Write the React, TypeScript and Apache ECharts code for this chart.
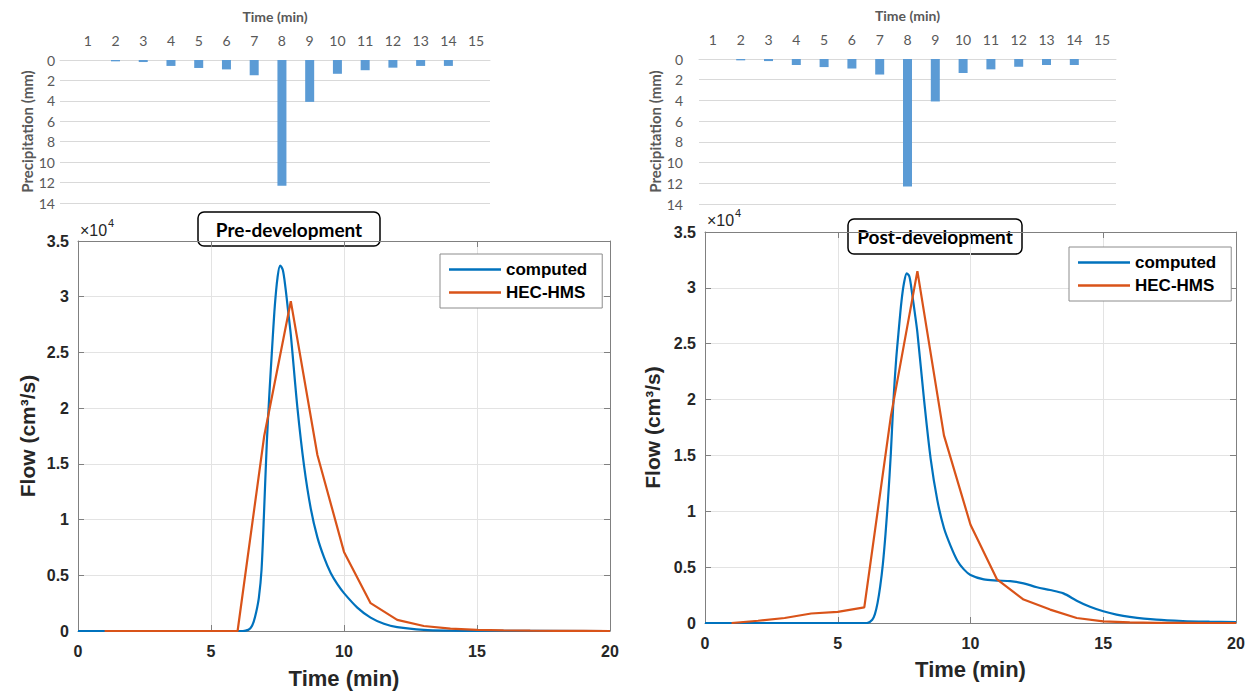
import React, { useEffect, useRef } from "react";
import * as echarts from "echarts";

// ---------- data ----------
const rainMinutes = [1, 2, 3, 4, 5, 6, 7, 8, 9, 10, 11, 12, 13, 14, 15];
const precipitationMm = [0, 0.13, 0.2, 0.58, 0.78, 0.92, 1.5, 12.3, 4.1, 1.35, 1.0, 0.75, 0.58, 0.58, 0];

// flows in units of 10^4 cm^3/s
const preComputedTime = [0, 6.2, 6.4, 6.5, 6.6, 6.7, 6.8, 6.9, 7.0, 7.1, 7.2, 7.3, 7.4, 7.5, 7.6, 7.7, 7.8, 7.9, 8.0, 8.25, 8.5, 8.75, 9.0, 9.25, 9.5, 9.75, 10, 10.5, 11, 11.5, 12, 13, 14, 15, 20];
const preComputedFlow = [0, 0, 0.01, 0.03, 0.08, 0.17, 0.3, 0.55, 1.1, 1.7, 2.15, 2.55, 2.92, 3.17, 3.28, 3.24, 3.08, 2.87, 2.66, 2.0, 1.48, 1.1, 0.84, 0.66, 0.52, 0.42, 0.34, 0.21, 0.12, 0.065, 0.035, 0.01, 0.003, 0.001, 0];
const preHmsTime = [1, 2, 3, 4, 5, 6, 7, 8, 9, 10, 11, 12, 13, 14, 15, 16, 17, 18, 19, 20];
const preHmsFlow = [0, 0, 0, 0, 0, 0, 1.75, 2.96, 1.58, 0.71, 0.25, 0.1, 0.045, 0.022, 0.01, 0.005, 0.003, 0.002, 0.001, 0];

const postComputedTime = [0, 6.1, 6.3, 6.4, 6.5, 6.6, 6.7, 6.8, 6.9, 7.0, 7.1, 7.2, 7.3, 7.4, 7.5, 7.6, 7.7, 7.8, 7.9, 8.0, 8.25, 8.5, 8.75, 9.0, 9.25, 9.5, 9.75, 10, 10.5, 11, 11.5, 12, 12.5, 13, 13.5, 14, 14.5, 15, 15.5, 16, 17, 18, 19, 20];
const postComputedFlow = [0, 0, 0.03, 0.08, 0.18, 0.33, 0.53, 0.8, 1.13, 1.52, 2.0, 2.36, 2.63, 2.88, 3.05, 3.13, 3.1, 2.95, 2.78, 2.6, 2.0, 1.47, 1.1, 0.85, 0.69, 0.56, 0.48, 0.43, 0.39, 0.38, 0.375, 0.355, 0.32, 0.295, 0.265, 0.2, 0.145, 0.105, 0.075, 0.055, 0.03, 0.018, 0.012, 0.008];
const postHmsTime = [1, 2, 3, 4, 5, 6, 7, 8, 9, 10, 11, 12, 13, 14, 15, 16, 17, 18, 19, 20];
const postHmsFlow = [0, 0.02, 0.045, 0.085, 0.1, 0.14, 1.85, 3.15, 1.68, 0.88, 0.39, 0.21, 0.12, 0.045, 0.015, 0.005, 0.002, 0.001, 0, 0];

const seriesNames = ["computed", "HEC-HMS"];

// ---------- styling ----------
const ARIAL = "'Liberation Sans', Arial, Helvetica, sans-serif";
const CAL = "Lato, 'Noto Sans', sans-serif";
const BLUE = "#0072bd";
const ORANGE = "#d95319";
const BAR = "#5b9bd5";
const AXIS = "#808080";

const zip = (t: number[], q: number[]) => t.map((x, i) => [x, q[i]]);

const barNameStyle = { fontFamily: CAL, fontWeight: "bold", fontSize: 14, color: "#595959" };
const barLabelStyle = { fontFamily: CAL, fontSize: 14, color: "#595959" };

// left precipitation panel: numeric axis so the gridlines run past the first bar like the original
const barXValue = (gi: number) => ({
  type: "value",
  gridIndex: gi,
  position: "top",
  min: 0,
  max: 15.5,
  interval: 1,
  name: "Time (min)",
  nameLocation: "middle",
  nameGap: 37,
  nameTextStyle: barNameStyle,
  axisLine: { show: true, onZero: false, lineStyle: { color: "#d9d9d9" } },
  axisTick: { show: false },
  axisLabel: {
    ...barLabelStyle,
    margin: 13,
    showMinLabel: true,
    showMaxLabel: true,
    formatter: (v: number) => (v >= 1 && v <= 15 && Math.abs(v - Math.round(v)) < 1e-6 ? String(Math.round(v)) : ""),
  },
  splitLine: { show: false },
});

const barXCat = (gi: number) => ({
  type: "category",
  gridIndex: gi,
  position: "top",
  data: rainMinutes.map(String),
  name: "Time (min)",
  nameLocation: "middle",
  nameGap: 37,
  nameTextStyle: barNameStyle,
  axisLine: { show: true, lineStyle: { color: "#d9d9d9" } },
  axisTick: { show: false },
  axisLabel: { ...barLabelStyle, margin: 13, interval: 0 },
  splitLine: { show: false },
});

const barY = (gi: number, margin: number, gap: number) => ({
  type: "value",
  gridIndex: gi,
  inverse: true,
  min: 0,
  max: 14,
  interval: 2,
  name: "Precipitation (mm)",
  nameLocation: "middle",
  nameGap: gap,
  nameTextStyle: { ...barNameStyle, fontSize: 15 },
  axisLine: { show: false },
  axisTick: { show: false },
  axisLabel: { ...barLabelStyle, margin },
  splitLine: { lineStyle: { color: "#d9d9d9" } },
});

const flowX = (gi: number, main: boolean, gap: number) => ({
  type: "value",
  gridIndex: gi,
  position: main ? "bottom" : "top",
  min: 0,
  max: 20,
  interval: 5,
  name: main ? "Time (min)" : "",
  nameLocation: "middle",
  nameGap: gap,
  nameTextStyle: { fontFamily: ARIAL, fontWeight: "bold", fontSize: 22, color: "#262626" },
  axisLine: { show: true, onZero: false, lineStyle: { color: AXIS, width: 1 } },
  axisTick: { show: true, inside: true, length: 6, lineStyle: { color: AXIS } },
  axisLabel: { show: main, fontFamily: ARIAL, fontWeight: "bold", fontSize: 16, color: "#262626", margin: 12 },
  splitLine: { show: main, lineStyle: { color: "#e3e3e3" } },
});

const flowY = (gi: number, main: boolean, gap: number) => ({
  type: "value",
  gridIndex: gi,
  position: main ? "left" : "right",
  min: 0,
  max: 3.5,
  interval: 0.5,
  name: main ? "Flow (cm³/s)" : "",
  nameLocation: "middle",
  nameGap: gap,
  nameTextStyle: { fontFamily: ARIAL, fontWeight: "bold", fontSize: 21, color: "#262626" },
  axisLine: { show: true, onZero: false, lineStyle: { color: AXIS, width: 1 } },
  axisTick: { show: true, inside: true, length: 6, lineStyle: { color: AXIS } },
  axisLabel: { show: main, fontFamily: ARIAL, fontWeight: "bold", fontSize: 16, color: "#262626", margin: 9 },
  splitLine: { show: main, lineStyle: { color: "#e3e3e3" } },
});

const legendBox = (left: number, top: number) => ({
  orient: "vertical",
  left,
  top,
  data: seriesNames,
  icon: "rect",
  itemWidth: 52,
  itemHeight: 2.5,
  itemGap: 6,
  padding: [7, 15, 7, 9],
  borderColor: "#8c8c8c",
  borderWidth: 1,
  backgroundColor: "#ffffff",
  textStyle: { fontFamily: ARIAL, fontWeight: "bold", fontSize: 17, lineHeight: 17, color: "#000" },
  selectedMode: false,
});

const titleBox = (x: number, y: number, w: number, h: number, text: string) => ({
  type: "group",
  z: 100,
  children: [
    {
      type: "rect",
      shape: { x, y, width: w, height: h, r: 6 },
      style: { fill: "#ffffff", stroke: "#000000", lineWidth: 1.5 },
    },
    {
      type: "text",
      x: x + w / 2,
      y: y + h / 2,
      style: { text, align: "center", verticalAlign: "middle", fontFamily: CAL, fontWeight: "bold", fontSize: 19, fill: "#000" },
    },
  ],
});

const exponent = (x: number, y: number) => ({
  type: "group",
  z: 100,
  children: [
    { type: "text", x, y, style: { text: "×10", align: "left", verticalAlign: "middle", fontFamily: ARIAL, fontSize: 16, fill: "#262626" } },
    { type: "text", x: x + 28, y: y - 7, style: { text: "4", align: "left", verticalAlign: "middle", fontFamily: ARIAL, fontSize: 11, fill: "#262626" } },
  ],
});

const lineSeries = (name: string, data: number[][], color: string, axis: number, smooth: boolean) => ({
  type: "line",
  name,
  xAxisIndex: axis,
  yAxisIndex: axis,
  data,
  symbol: "none",
  showSymbol: false,
  smooth: smooth ? 0.3 : false,
  lineStyle: { color, width: 2.2 },
  itemStyle: { color },
});

export default function App() {
  const ref = useRef<HTMLDivElement>(null);

  useEffect(() => {
    if (!ref.current) return;
    const chart = echarts.init(ref.current, null, { renderer: "svg" });
    const option = {
      animation: false,
      backgroundColor: "#ffffff",
      grid: [
        { left: 60, top: 60, width: 430, height: 143 },
        { left: 699, top: 59, width: 417, height: 145 },
        { left: 78, top: 241, width: 532, height: 390 },
        { left: 705, top: 232, width: 531, height: 391 },
      ],
      xAxis: [
        barXValue(0),
        barXCat(1),
        flowX(2, true, 36),
        flowX(2, false, 0),
        flowX(3, true, 35),
        flowX(3, false, 0),
      ],
      yAxis: [
        barY(0, 5, 24),
        barY(1, 16, 34),
        flowY(2, true, 40),
        flowY(2, false, 0),
        flowY(3, true, 42),
        flowY(3, false, 0),
      ],
      legend: [legendBox(440, 254), legendBox(1069, 247)],
      series: [
        {
          type: "bar",
          name: "precipitation-pre",
          xAxisIndex: 0,
          yAxisIndex: 0,
          data: zip(rainMinutes, precipitationMm),
          barWidth: 9,
          itemStyle: { color: BAR },
        },
        {
          type: "bar",
          name: "precipitation-post",
          xAxisIndex: 1,
          yAxisIndex: 1,
          data: precipitationMm,
          barWidth: 9,
          itemStyle: { color: BAR },
        },
        lineSeries(seriesNames[0], zip(preComputedTime, preComputedFlow), BLUE, 2, true),
        lineSeries(seriesNames[1], zip(preHmsTime, preHmsFlow), ORANGE, 2, false),
        lineSeries(seriesNames[0], zip(postComputedTime, postComputedFlow), BLUE, 4, true),
        lineSeries(seriesNames[1], zip(postHmsTime, postHmsFlow), ORANGE, 4, false),
      ],
      graphic: [
        titleBox(198, 212, 182, 34, "Pre-development"),
        titleBox(848, 219, 174, 35, "Post-development"),
        exponent(80, 230),
        exponent(707, 220),
      ],
    };
    chart.setOption(option as any);
    return () => chart.dispose();
  }, []);

  return (
    <div
      ref={ref}
      style={{ position: "fixed", left: 0, top: 0, width: 1253, height: 694, background: "#fff" }}
    />
  );
}
